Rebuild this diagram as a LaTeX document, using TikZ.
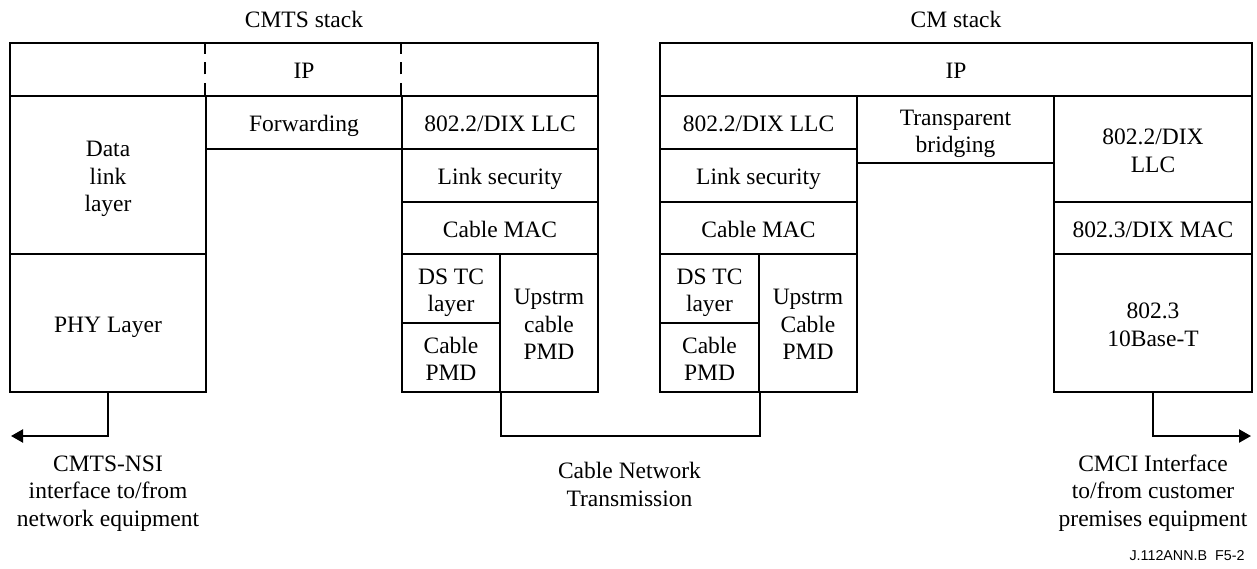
\documentclass[tikz,border=0pt]{standalone}
\usepackage{fontspec}
\setmainfont{Liberation Serif}
\newfontfamily\figsans{Liberation Sans}
\usetikzlibrary{arrows.meta}
\newcommand{\topstrut}{\rule{0pt}{26.85pt}}
\tikzset{
  lay/.style={draw, line width=2.2pt, inner sep=0pt, align=center,
    font=\fontsize{23.5}{27.5}\selectfont},
  lbl/.style={inner sep=0pt, align=center, font=\fontsize{23.5}{27.5}\selectfont},
  conn/.style={line width=2.2pt},
  arr/.style={line width=2.2pt, -{Triangle[length=12pt,width=13pt]}},
  ipdash/.style={line width=2.2pt, dash pattern=on 12pt off 8.5pt}
}
% box: name, x1, x2, y1, y2, text
\newcommand{\lbox}[6]{%
  \pgfmathsetmacro{\bw}{#3-#2}\pgfmathsetmacro{\bh}{#5-#4}%
  \node[lay, minimum width=\bw pt, minimum height=\bh pt] (#1) at ({(#2+#3)/2},{(#4+#5)/2}) {\topstrut #6\strut};}
\begin{document}
\begin{tikzpicture}[x=1pt,y=-1pt]
\useasboundingbox (0,0) rectangle (1257,568);
% CMTS stack
\lbox{cmtsip}{10}{598}{43}{96}{IP}
\lbox{dll}{10}{206}{96}{254}{Data\\link\\layer}
\lbox{phy}{10}{206}{254}{392}{PHY Layer}
\lbox{fwd}{206}{402}{96}{149}{Forwarding}
\lbox{llca}{402}{598}{96}{149}{802.2/DIX LLC}
\lbox{seca}{402}{598}{149}{202}{Link security}
\lbox{maca}{402}{598}{202}{254}{Cable MAC}
\lbox{dstca}{402}{500}{254}{323}{DS TC\\layer}
\lbox{pmda}{402}{500}{323}{392}{Cable\\PMD}
\lbox{upa}{500}{598}{254}{392}{Upstrm\\cable\\PMD}
\draw[ipdash] (fwd.north west) -- (fwd.north west |- cmtsip.north);
\draw[ipdash] (llca.north west) -- (llca.north west |- cmtsip.north);
% CM stack
\lbox{cmip}{660}{1252}{43}{96}{IP}
\lbox{llcb}{660}{857}{96}{149}{802.2/DIX LLC}
\lbox{secb}{660}{857}{149}{202}{Link security}
\lbox{macb}{660}{857}{202}{254}{Cable MAC}
\lbox{dstcb}{660}{759}{254}{323}{DS TC\\layer}
\lbox{pmdb}{660}{759}{323}{392}{Cable\\PMD}
\lbox{upb}{759}{857}{254}{392}{Upstrm\\Cable\\PMD}
\lbox{tb}{857}{1054}{96}{163}{Transparent\\bridging}
\lbox{llcc}{1054}{1252}{96}{202}{802.2/DIX\\LLC}
\lbox{macc}{1054}{1252}{202}{254}{802.3/DIX MAC}
\lbox{base}{1054}{1252}{254}{392}{802.3\\10Base-T}
% titles
\node[lbl] (t1) at (304,18.5) {\topstrut CMTS stack\strut};
\node[lbl] (t2) at (956,18.5) {\topstrut CM stack\strut};
% connectors
\coordinate (nsi) at (11,436);
\coordinate (bus) at (0,436);
\coordinate (cmci) at (1251,436);
\draw[arr] (phy.south) |- (nsi);
\draw[conn] (pmda.south east) -- (pmda.south east |- bus) -| (pmdb.south east);
\draw[arr] (base.south) |- (cmci);
% labels
\node[lbl] (l1) at (108,489.5) {\topstrut CMTS-NSI\\interface to/from\\network equipment\strut};
\node[lbl] (l2) at (629.5,483) {\topstrut Cable Network\\Transmission\strut};
\node[lbl] (l3) at (1153,489.5) {\topstrut CMCI Interface\\to/from customer\\premises equipment\strut};
\node[inner sep=0pt, font=\figsans\fontsize{14.3}{16}\selectfont] (fig) at (1187,556) {J.112ANN.B\ \ F5-2};
\end{tikzpicture}
\end{document}
